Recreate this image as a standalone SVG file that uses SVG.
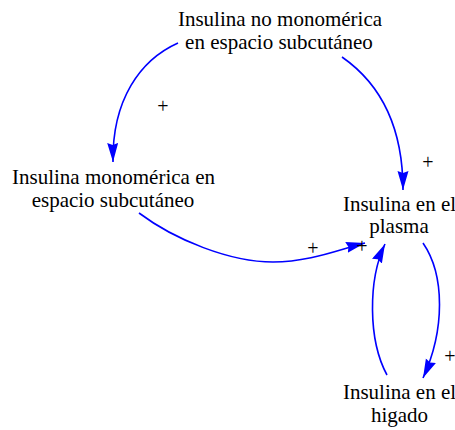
<svg xmlns="http://www.w3.org/2000/svg" width="455" height="430" viewBox="0 0 455 430">
<style>
.lbl{font-family:"Liberation Serif","Times New Roman",serif;font-size:21px;fill:#000;text-anchor:middle}
.pol{font-family:"Liberation Serif","Times New Roman",serif;font-size:20px;fill:#000;text-anchor:middle}
.lnk{fill:none;stroke:#0000ff;stroke-width:1.6}
</style>
<defs>
<marker id="ah" markerUnits="userSpaceOnUse" markerWidth="20" markerHeight="12" refX="19" refY="5.5" orient="auto">
<path d="M0,0 L19,5.5 L0,11 L2,5.5 z" fill="#0000ff"/>
</marker>
</defs>
<rect width="455" height="430" fill="#fff"/>
<g id="connectors">
<path class="lnk" marker-end="url(#ah)" d="M178,43 C140,60 112,100 113,162"/>
<path class="lnk" marker-end="url(#ah)" d="M342,57 C375,80 403,120 403,190"/>
<path class="lnk" marker-end="url(#ah)" d="M139,213 C175,240 230,262 273,262 C310,262 340,249 365,243"/>
<path class="lnk" marker-end="url(#ah)" d="M423,243 C445,275 445,330 423,378"/>
<path class="lnk" marker-end="url(#ah)" d="M387,375 C368,340 368,280 385,244"/>
<text class="pol" x="163" y="113">+</text>
<text class="pol" x="428" y="169">+</text>
<text class="pol" x="313" y="255">+</text>
<text class="pol" x="362" y="253">+</text>
<text class="pol" x="450" y="363">+</text>
</g>
<g id="node-no-monomerica">
<text class="lbl" x="280" y="26">Insulina no monomérica</text>
<text class="lbl" x="279" y="49">en espacio subcutáneo</text>
</g>
<g id="node-monomerica">
<text class="lbl" x="113.5" y="184">Insulina monomérica en</text>
<text class="lbl" x="113" y="207">espacio subcutáneo</text>
</g>
<g id="node-plasma">
<text class="lbl" x="399.5" y="211">Insulina en el</text>
<text class="lbl" x="399" y="233">plasma</text>
</g>
<g id="node-higado">
<text class="lbl" x="399.5" y="399">Insulina en el</text>
<text class="lbl" x="399.5" y="422">higado</text>
</g>
</svg>
